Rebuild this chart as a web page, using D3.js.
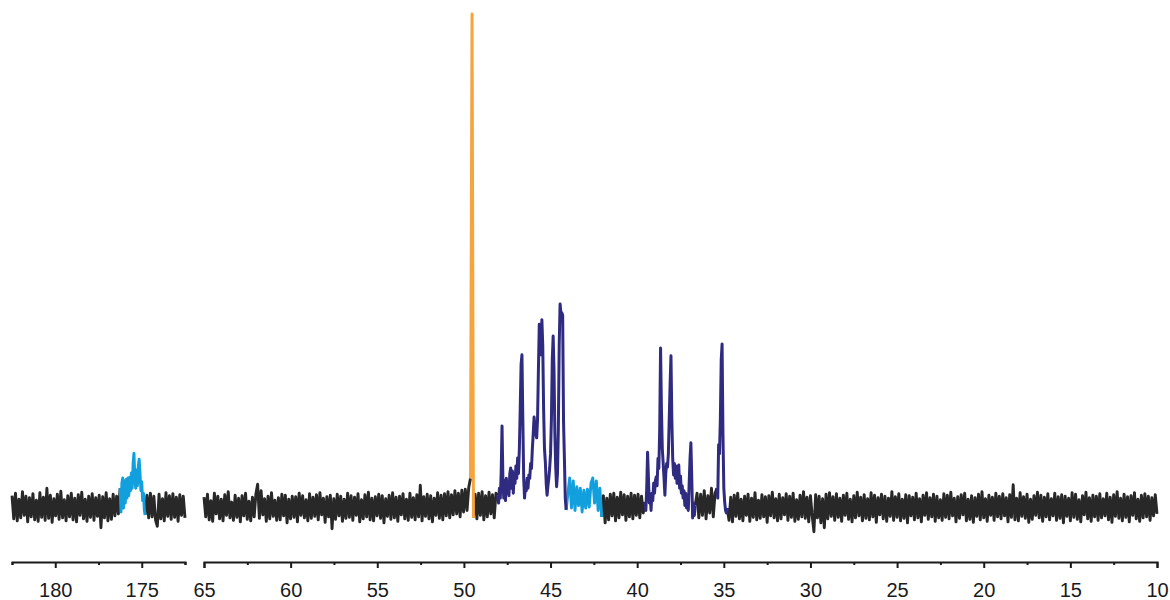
<!DOCTYPE html>
<html>
<head>
<meta charset="utf-8">
<script src="https://cdn.jsdelivr.net/npm/d3@7"></script>
<style>
  html, body { margin: 0; padding: 0; background: #ffffff; }
  svg { display: block; }
  text { font-family: "Liberation Sans", Arial, sans-serif; }
</style>
</head>
<body>
<svg id="chart" width="1170" height="600"></svg>
<script>
// ---- DATA (13C NMR, chemical shift in ppm, intensity: baseline 0, tallest peak 1000) ----
// Left panel (carbonyl region)
const leftPanelPpm = [182.5, 172.5];
const leftTicks = [180, 175];
const leftMinorTicks = [182.5, 177.5, 172.5];
// Right panel (aliphatic region)
const rightPanelPpm = [65, 10];
const rightTicks = [65, 60, 55, 50, 45, 40, 35, 30, 25, 20, 15, 10];
const rightMinorTicks = [62.5, 57.5, 52.5, 47.5, 42.5, 37.5, 32.5, 27.5, 22.5, 17.5, 12.5];

// 182.5 -> 176.25 ppm
const leftNoise1 = [25,-22,30,-26,18,-20,33,-15,24,-28,21,-18,29,-24,16,-27,31,-19,22,-25,
  40,-21,26,-29,19,-16,28,-23,34,-20,17,-26,25,-18,30,-24,20,-28,27,-15,
  32,-22,18,-27,24,-19,29,-25,21,-17,26,-40,23,-20,31,-26,19,-23,28,-16,
  24,-12,40];
// 176.25 -> 174.80 ppm (carbonyl, light blue)
const carbonylPeak = [40,-8,50,61,0,55,10,58,20,61,25,62,35,71,40,90,111,60,40,77,45,85,99,70,35,53,15,30,-5,-14];
// 174.80 -> 172.5 ppm
const leftNoise2 = [-14,26,-20,30,-18,24,-25,-37,28,-22,19,-26,31,-17,25,-23,29,-19,22,-27,27,-15,24,-20];

// 65 -> 49.62 ppm
const noiseA = [22,-18,28,-24,15,-27,30,-12,24,-22,18,-26,27,-15,33,-20,12,-25,26,-19,
  20,-28,25,-16,30,-23,14,-26,22,-18,29,48,-21,35,-14,19,-27,24,-22,31,
  -17,16,-25,21,-24,28,-16,26,-30,18,-22,24,-19,23,-28,30,-15,25,-20,17,
  -26,29,-21,22,-17,27,-24,31,-14,20,-29,23,-18,26,-42,19,-23,28,-16,24,
  -27,18,-21,30,-19,25,-25,22,-15,29,-28,17,-22,27,-18,32,-24,20,-26,23,
  -16,28,-21,25,-30,19,-17,26,-23,31,-20,22,-27,24,-14,29,-22,18,-25,30,
  -19,21,-24,27,-18,46,-26,23,-17,28,-22,25,-28,20,-15,31,-21,26,-24,29,
  -16,33,-20,27,-14,35,-12,30,-18,36,-8,38,-5,42,60];
// solvent line (orange)
const solventPpm = [49.62, 49.53, 49.45];
const solventVals = [60, 1000, -20];
// 49.45 -> 48.05 ppm
const noiseB = [-20,28,-22,30,-15,33,-24,25,-18,32,-12,27,-20,30,26];
// 48.05 -> 44.10 ppm (navy multiplet)
const multipletA = [26,10,40,20,70,166,60,20,55,15,60,30,50,25,70,81,40,75,30,70,
  50,85,60,101,70,120,200,290,310,180,60,20,45,35,60,40,67,60,90,80,
  120,150,184,165,150,142,180,280,372,330,310,381,330,200,120,93,50,26,45,60,
  81,110,180,300,348,280,150,80,43,70,160,330,413,395,395,390,174,100,20,-4];
// 44.10 -> 42.05 ppm (light blue hump)
const humpB = [-4,30,61,0,55,-5,43,5,40,-8,36,0,38,2,50,61,10,55,-5,40,-18];
// 42.05 -> 39.55 ppm
const noiseC = [-18,25,-30,20,-24,28,-16,30,-26,22,-20,32,-14,27,-25,24,-18,30,-22,26,-15,28,-20,24,-10,12];
// 39.55 -> 36.65 ppm (navy multiplet)
const multipletB = [12,-5,40,113,60,10,26,-5,30,15,50,30,55,63,45,100,80,160,324,200,
  120,91,60,26,70,90,83,110,180,250,308,180,100,67,90,60,85,50,80,87,
  40,65,30,45,20,35,5,30,0,20,-5,50,100,132,60,-20,10,-15,5];
// 36.65 -> 35.40 ppm
const noiseD = [5,30,-20,28,-15,35,-22,25,-10,40,-18,30,40];
// 35.40 -> 34.80 ppm (navy singlet)
const singletC = [40,20,128,110,180,300,332,150,40,12,-5,-10,0];
// 34.80 -> 10 ppm
const noiseE = [0,-25,22,-28,26,-17,30,-22,18,-26,24,-15,28,-27,20,-19,31,-24,16,-21,
  27,-18,23,-29,25,-16,32,-20,19,-26,28,-22,21,-14,29,-25,24,-19,30,-27,
  17,-23,26,-18,33,-21,22,-28,25,-16,-48,27,-20,24,-30,19,-40,28,-22,31,
  -17,23,-25,29,-19,20,-27,26,-15,30,-23,18,-28,25,-20,32,-16,22,-26,27,
  -21,19,-24,31,-18,26,-29,21,-14,28,-22,24,-27,20,-17,33,-25,23,-19,29,
  -26,18,-21,27,-30,25,-16,22,-24,30,-20,19,-28,26,-15,31,-23,21,-18,28,
  -27,24,-20,17,-25,29,-19,26,-22,32,-16,20,-28,23,-21,27,-14,30,-26,18,
  -23,25,-29,21,-17,28,-24,33,-20,19,-27,26,-15,22,-25,30,-18,24,-22,29,
  -16,21,-28,27,-19,47,-24,20,-26,31,-17,23,-21,28,-29,18,-23,25,-15,32,
  -20,26,-27,22,-18,29,-24,19,-16,30,-25,23,-21,27,-30,24,-17,20,-26,31,
  -19,28,-23,17,-28,25,-14,32,-22,21,-27,26,-18,24,-25,29,-20,19,-16,30,
  -24,22,-29,27,-17,33,-21,20,-26,28,-19,23,-28,25,-15,31,-22,18,-27,26,
  -20,29,-18,24,-25,21,-16,27,-12];

// ---- STYLE ----
const COLORS = { noise: "#282828", multiplet: "#2f2b80", hump: "#129fdd", solvent: "#f5a43e" };
const WIDTHS = { noise: 2.9, multiplet: 3, hump: 2.9, solvent: 3 };

// ---- BUILD ----
const svg = d3.select("#chart");
const xL = d3.scaleLinear().domain(leftPanelPpm).range([12, 185]);
const xR = d3.scaleLinear().domain(rightPanelPpm).range([204, 1157]);
const y = d3.scaleLinear().domain([0, 1000]).range([508, 14]);
const axisY = 562;

function grid(from, to, vals) {
  const n = vals.length, step = (to - from) / (n - 1);
  return vals.map((v, i) => ({ ppm: from + step * i, v }));
}
function paired(ppms, vals) { return ppms.map((p, i) => ({ ppm: p, v: vals[i] })); }

const segments = [
  { x: xL, kind: "noise", pts: grid(182.5, 176.25, leftNoise1) },
  { x: xL, kind: "noise", pts: grid(174.80, 172.5, leftNoise2) },
  { x: xR, kind: "noise", pts: grid(65, 49.62, noiseA) },
  { x: xR, kind: "noise", pts: grid(49.45, 48.05, noiseB) },
  { x: xR, kind: "noise", pts: grid(42.05, 39.55, noiseC) },
  { x: xR, kind: "noise", pts: grid(36.65, 35.40, noiseD) },
  { x: xR, kind: "noise", pts: grid(34.80, 10, noiseE) },
  { x: xL, kind: "hump", pts: grid(176.25, 174.80, carbonylPeak) },
  { x: xR, kind: "hump", pts: grid(44.10, 42.05, humpB) },
  { x: xR, kind: "multiplet", pts: grid(48.05, 44.10, multipletA) },
  { x: xR, kind: "multiplet", pts: grid(39.55, 36.65, multipletB) },
  { x: xR, kind: "multiplet", pts: grid(35.40, 34.80, singletC) },
  { x: xR, kind: "solvent", pts: paired(solventPpm, solventVals) }
];

const gLines = svg.append("g");
segments.forEach(s => {
  const line = d3.line().x(d => s.x(d.ppm)).y(d => y(d.v));
  gLines.append("path")
    .attr("d", line(s.pts))
    .attr("fill", "none")
    .attr("stroke", COLORS[s.kind])
    .attr("stroke-width", WIDTHS[s.kind])
    .attr("stroke-linejoin", "round")
    .attr("stroke-linecap", "butt");
});

// ---- AXES ----
function drawAxis(scale, majors, minors, outer) {
  const gMin = svg.append("g").attr("transform", `translate(0,${axisY})`)
    .call(d3.axisBottom(scale).tickValues(minors).tickSize(3).tickSizeOuter(outer).tickFormat(""));
  const gMaj = svg.append("g").attr("transform", `translate(0,${axisY})`)
    .call(d3.axisBottom(scale).tickValues(majors).tickSize(6).tickSizeOuter(0).tickPadding(15).tickFormat(d3.format("d")));
  gMaj.select(".domain").remove();
  [gMin, gMaj].forEach(g => {
    g.selectAll("path, line").attr("stroke", "#1a1a1a").attr("stroke-width", 2);
    g.selectAll("text").attr("font-size", 20).attr("fill", "#1a1a1a")
      .attr("font-family", "Liberation Sans, Arial, sans-serif");
  });
}
drawAxis(xL, leftTicks, leftMinorTicks, 3);
drawAxis(xR, rightTicks, rightMinorTicks, 6);
</script>
</body>
</html>
